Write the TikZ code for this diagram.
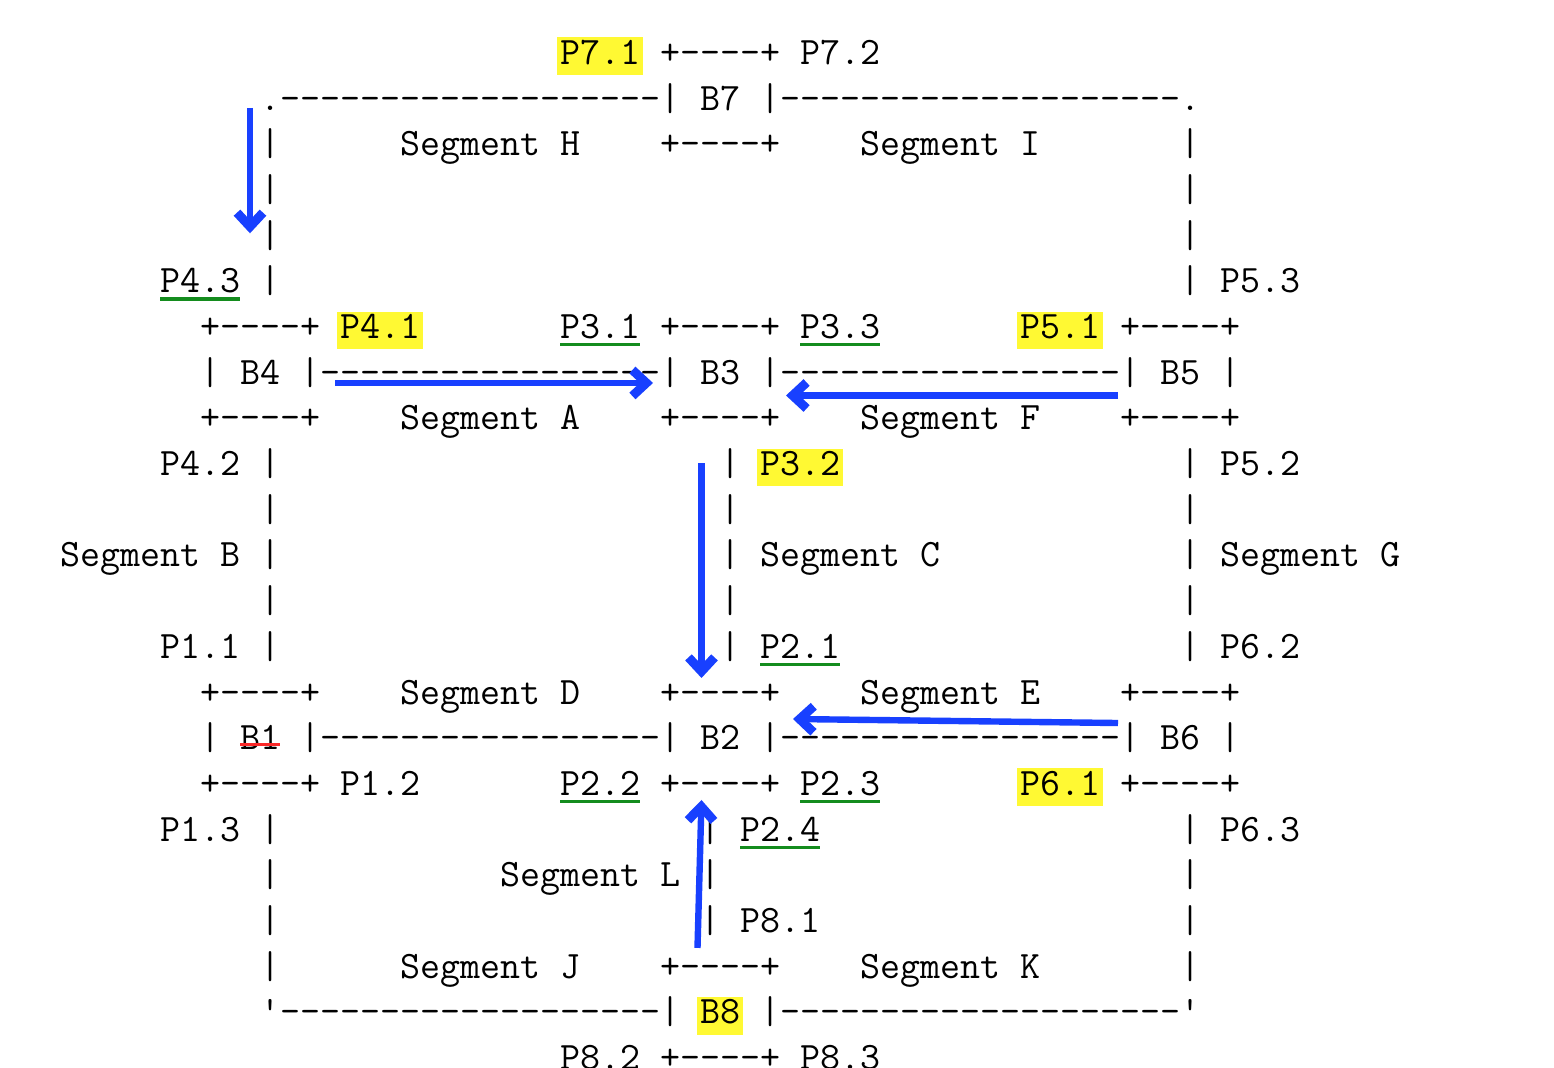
\documentclass[tikz,border=0pt]{standalone}
\usetikzlibrary{arrows.meta}

\definecolor{hlyellow}{RGB}{255,249,51}
\definecolor{ulgreen}{RGB}{20,140,30}
\definecolor{strred}{RGB}{250,40,40}
\definecolor{flowblue}{RGB}{24,64,255}

% one typewriter column = 10pt
\newlength\chw
\settowidth\chw{\fontsize{20}{24}\selectfont\ttfamily 0}
\pgfmathsetmacro\asciisize{200/\chw}
\newcommand\ascii{\fontsize{\asciisize}{22}\selectfont\ttfamily}

\newsavebox\tokbox
\newcommand\dsh[1]{\foreach \k in {1,...,#1}{-}}
\newcommand\boxrim{+\dsh{4}+}
\newcommand\gul[1]{\sbox\tokbox{#1}\rlap{\color{ulgreen}\rule[-3.9pt]{\wd\tokbox}{1.6pt}}\usebox\tokbox}
\newcommand\rst[1]{\sbox\tokbox{#1}\usebox\tokbox\llap{\color{strred}\rule[2pt]{\wd\tokbox}{1.5pt}}}

\begin{document}
\begin{tikzpicture}[x=10pt,y=-22.84pt]
	\tikzstyle{every node}=[anchor=base west,inner sep=0pt,font=\ascii]
	\tikzstyle{hl}=[fill=hlyellow,inner xsep=1.5pt,xshift=-1.5pt,
		text height=13.5pt,text depth=5.4pt]
	\tikzstyle{flow}=[draw=flowblue,line width=3.2pt,
		-{Straight Barb[length=7pt,width=13pt,line width=4.5pt]}]
	\useasboundingbox (-3,-1.412) rectangle (74.7,21.968);

	% B7 and the top rail
	\node[hl] (p71) at (25,0) {P7.1};
	\node (b7top) at (30,0) {\boxrim};
	\node (p72) at (37,0) {P7.2};
	\node (toprail) at (10,1) {.\dsh{19}| B7 |\dsh{20}.};
	\node (lb2) at (10,2) {|};
	\node (segh) at (17,2) {Segment H};
	\node (b7bot) at (30,2) {\boxrim};
	\node (segi) at (40,2) {Segment I};
	\node (rb2) at (56,2) {|};
	\node (lb3) at (10,3) {|};
	\node (rb3) at (56,3) {|};
	\node (lb4) at (10,4) {|};
	\node (rb4) at (56,4) {|};
	\node (p43) at (5,5) {\gul{P4.3}};
	\node (lb5) at (10,5) {|};
	\node (rb5) at (56,5) {|};
	\node (p53) at (58,5) {P5.3};

	% B4, B3, B5
	\node (b4top) at (7,6) {\boxrim};
	\node[hl] (p41) at (14,6) {P4.1};
	\node (p31) at (25,6) {\gul{P3.1}};
	\node (b3top) at (30,6) {\boxrim};
	\node (p33) at (37,6) {\gul{P3.3}};
	\node[hl] (p51) at (48,6) {P5.1};
	\node (b5top) at (53,6) {\boxrim};
	\node (midrail) at (7,7) {| B4 |\dsh{17}| B3 |\dsh{17}| B5 |};
	\node (b4bot) at (7,8) {\boxrim};
	\node (sega) at (17,8) {Segment A};
	\node (b3bot) at (30,8) {\boxrim};
	\node (segf) at (40,8) {Segment F};
	\node (b5bot) at (53,8) {\boxrim};

	% middle columns
	\node (p42) at (5,9) {P4.2};
	\node (lb9) at (10,9) {|};
	\node (cb9) at (33,9) {|};
	\node[hl] (p32) at (35,9) {P3.2};
	\node (rb9) at (56,9) {|};
	\node (p52) at (58,9) {P5.2};
	\node (lb10) at (10,10) {|};
	\node (cb10) at (33,10) {|};
	\node (rb10) at (56,10) {|};
	\node (segb) at (0,11) {Segment B};
	\node (lb11) at (10,11) {|};
	\node (cb11) at (33,11) {|};
	\node (segc) at (35,11) {Segment C};
	\node (rb11) at (56,11) {|};
	\node (segg) at (58,11) {Segment G};
	\node (lb12) at (10,12) {|};
	\node (cb12) at (33,12) {|};
	\node (rb12) at (56,12) {|};
	\node (p11) at (5,13) {P1.1};
	\node (lb13) at (10,13) {|};
	\node (cb13) at (33,13) {|};
	\node (p21) at (35,13) {\gul{P2.1}};
	\node (rb13) at (56,13) {|};
	\node (p62) at (58,13) {P6.2};

	% B1, B2, B6
	\node (b1top) at (7,14) {\boxrim};
	\node (segd) at (17,14) {Segment D};
	\node (b2top) at (30,14) {\boxrim};
	\node (sege) at (40,14) {Segment E};
	\node (b6top) at (53,14) {\boxrim};
	\node (lowrail) at (7,15) {| \rst{B1} |\dsh{17}| B2 |\dsh{17}| B6 |};
	\node (b1bot) at (7,16) {\boxrim};
	\node (p12) at (14,16) {P1.2};
	\node (p22) at (25,16) {\gul{P2.2}};
	\node (b2bot) at (30,16) {\boxrim};
	\node (p23) at (37,16) {\gul{P2.3}};
	\node[hl] (p61) at (48,16) {P6.1};
	\node (b6bot) at (53,16) {\boxrim};

	% lower part and B8
	\node (p13) at (5,17) {P1.3};
	\node (lb17) at (10,17) {|};
	\node (cb17) at (32,17) {|};
	\node (p24) at (34,17) {\gul{P2.4}};
	\node (rb17) at (56,17) {|};
	\node (p63) at (58,17) {P6.3};
	\node (lb18) at (10,18) {|};
	\node (segl) at (22,18) {Segment L};
	\node (cb18) at (32,18) {|};
	\node (rb18) at (56,18) {|};
	\node (lb19) at (10,19) {|};
	\node (cb19) at (32,19) {|};
	\node (p81) at (34,19) {P8.1};
	\node (rb19) at (56,19) {|};
	\node (lb20) at (10,20) {|};
	\node (segj) at (17,20) {Segment J};
	\node (b8top) at (30,20) {\boxrim};
	\node (segk) at (40,20) {Segment K};
	\node (rb20) at (56,20) {|};
	\node (botleft) at (10,21) {\textquotesingle\dsh{19}|};
	\node[hl] (b8) at (32,21) {B8};
	\node (botright) at (35,21) {|\dsh{20}\textquotesingle};
	\node (p82) at (25,22) {P8.2};
	\node (b8bot) at (30,22) {\boxrim};
	\node (p83) at (37,22) {P8.3};

	% blue arrows
	\coordinate (arrH0) at (9.5,0.952);
	\coordinate (arrH1) at (9.5,3.695);
	\coordinate (arrA0) at (13.75,6.972);
	\coordinate (arrA1) at (29.65,6.972);
	\coordinate (arrF0) at (52.9,7.246);
	\coordinate (arrF1) at (36.3,7.246);
	\coordinate (arrC0) at (32.075,8.724);
	\coordinate (arrC1) at (32.075,13.43);
	\coordinate (arrE0) at (52.9,14.416);
	\coordinate (arrE1) at (36.65,14.328);
	\coordinate (arrL0) at (31.875,19.34);
	\coordinate (arrL1) at (32.075,16.101);
	\draw[flow] (arrH0) -- (arrH1);
	\draw[flow] (arrA0) -- (arrA1);
	\draw[flow] (arrF0) -- (arrF1);
	\draw[flow] (arrC0) -- (arrC1);
	\draw[flow] (arrE0) -- (arrE1);
	\draw[flow] (arrL0) -- (arrL1);
\end{tikzpicture}
\end{document}
